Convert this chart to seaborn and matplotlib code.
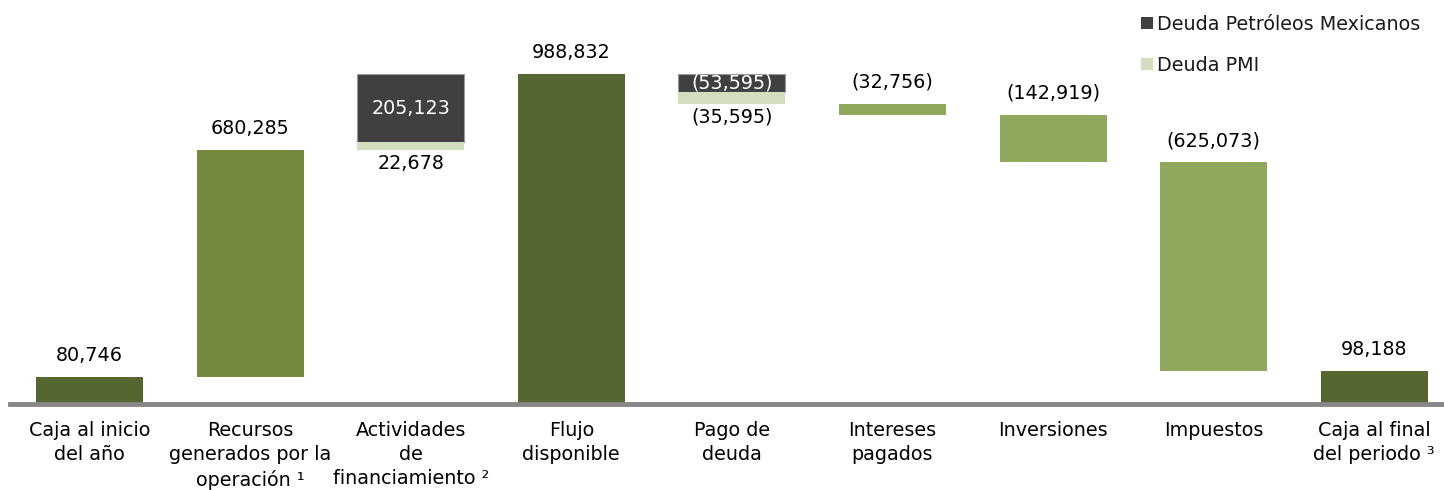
import matplotlib
matplotlib.use("Agg")
import matplotlib.pyplot as plt
from matplotlib.patches import Patch
import pandas as pd
import seaborn as sns

# Categories on the x axis
categories = [
    "Caja al inicio\ndel año",
    "Recursos\ngenerados por la\noperación \u00b9",
    "Actividades\nde\nfinanciamiento \u00b2",
    "Flujo\ndisponible",
    "Pago de\ndeuda",
    "Intereses\npagados",
    "Inversiones",
    "Impuestos",
    "Caja al final\ndel periodo \u00b3",
]

# Cash flow figures (millones de pesos)
caja_inicio = 80746
recursos_operacion = 680285
financiamiento_pemex = 205123
financiamiento_pmi = 22678
flujo_disponible = 988832
pago_deuda_pemex = -53595
pago_deuda_pmi = -35595
intereses_pagados = -32756
inversiones = -142919
impuestos = -625073
caja_final = 98188

legend_labels = ["Deuda Petróleos Mexicanos", "Deuda PMI"]

# Colours
C_TOTAL = "#556630"
C_OPER = "#738a3f"
C_OUT = "#8fa95c"
C_PEMEX = "#404040"
C_PMI = "#d3dec0"
C_AXIS = "#878787"

sns.set_theme(style="white")
plt.rcParams["font.family"] = ["DejaVu Sans"]
plt.rcParams["text.color"] = "black"
plt.rcParams["xtick.color"] = "black"
FS = 13.8

fig = plt.figure(figsize=(14.44, 4.90), dpi=100)
ax = fig.add_axes([10 / 1444, 86 / 490, 1 - 10 / 1444, 404 / 490])

# Running levels of the waterfall
lvl_oper = caja_inicio + recursos_operacion
lvl_fin_pmi = lvl_oper + financiamiento_pmi
lvl_pago_pemex = flujo_disponible + pago_deuda_pemex
lvl_pago_pmi = lvl_pago_pemex + pago_deuda_pmi
lvl_int = lvl_pago_pmi + intereses_pagados
lvl_inv = lvl_int + inversiones
lvl_imp = lvl_inv + impuestos

BAR_W = 0.667


def layer(idx, bottoms, heights, color, edge="none"):
    df = pd.DataFrame({"cat": [categories[i] for i in idx], "val": heights})
    sns.barplot(data=df, x="cat", y="val", order=categories, bottom=bottoms,
                color=color, saturation=1, width=BAR_W, errorbar=None,
                edgecolor=edge, linewidth=0.8 if edge != "none" else 0, ax=ax)


layer([0, 3, 8], [0, 0, 0], [caja_inicio, flujo_disponible, caja_final], C_TOTAL)
layer([1], [caja_inicio], [recursos_operacion], C_OPER)
layer([5, 6, 7], [lvl_int, lvl_inv, lvl_imp],
      [-intereses_pagados, -inversiones, -impuestos], C_OUT)
layer([2, 4], [lvl_fin_pmi, lvl_pago_pemex],
      [financiamiento_pemex, -pago_deuda_pemex], C_PEMEX, edge="#9a9a9a")
layer([2, 4], [lvl_oper, lvl_pago_pmi],
      [financiamiento_pmi, -pago_deuda_pmi], C_PMI)


def fmt(v):
    return f"({abs(v):,})" if v < 0 else f"{v:,}"


def above(i, top, v):
    ax.annotate(fmt(v), xy=(i, top), xytext=(0, 8.5), textcoords="offset points",
                ha="center", va="bottom", fontsize=FS, color="black")


def below(i, bot, v):
    ax.annotate(fmt(v), xy=(i, bot), xytext=(0, -3), textcoords="offset points",
                ha="center", va="top", fontsize=FS, color="black")


def inside(i, lo, hi, v):
    ax.text(i, (lo + hi) / 2, fmt(v), ha="center", va="center",
            fontsize=FS, color="white")


above(0, caja_inicio, caja_inicio)
above(1, lvl_oper, recursos_operacion)
inside(2, lvl_fin_pmi, flujo_disponible, financiamiento_pemex)
below(2, lvl_oper, financiamiento_pmi)
above(3, flujo_disponible, flujo_disponible)
inside(4, lvl_pago_pemex, flujo_disponible, pago_deuda_pemex)
below(4, lvl_pago_pmi, pago_deuda_pmi)
above(5, lvl_pago_pmi, intereses_pagados)
above(6, lvl_int, inversiones)
above(7, lvl_inv, impuestos)
above(8, caja_final, caja_final)

ax.set_xlim(-0.495, 8.434)
ax.set_ylim(0, flujo_disponible * 404 / 330)
ax.set_xticks(range(len(categories)))
ax.set_xticklabels(categories, fontsize=FS, linespacing=1.33, va="top",
                   color="black")
ax.tick_params(axis="x", length=0, pad=12.5)
ax.set_yticks([])
ax.set_xlabel("")
ax.set_ylabel("")
for s in ["top", "left", "right"]:
    ax.spines[s].set_visible(False)
ax.spines["bottom"].set_color(C_AXIS)
ax.spines["bottom"].set_linewidth(3.5)
ax.set_facecolor("none")

handles = [Patch(facecolor=C_PEMEX, edgecolor="none"),
           Patch(facecolor=C_PMI, edgecolor="none")]
leg = fig.legend(handles, legend_labels, loc="upper left",
                 bbox_to_anchor=(1133 / 1444, 1 - 7 / 490), frameon=False,
                 fontsize=FS, handlelength=0.65, handleheight=0.65,
                 handletextpad=0.2, labelspacing=1.15, borderaxespad=0)
for t in leg.get_texts():
    t.set_color("#1a1a1a")

fig.savefig("out.png", dpi=100)
